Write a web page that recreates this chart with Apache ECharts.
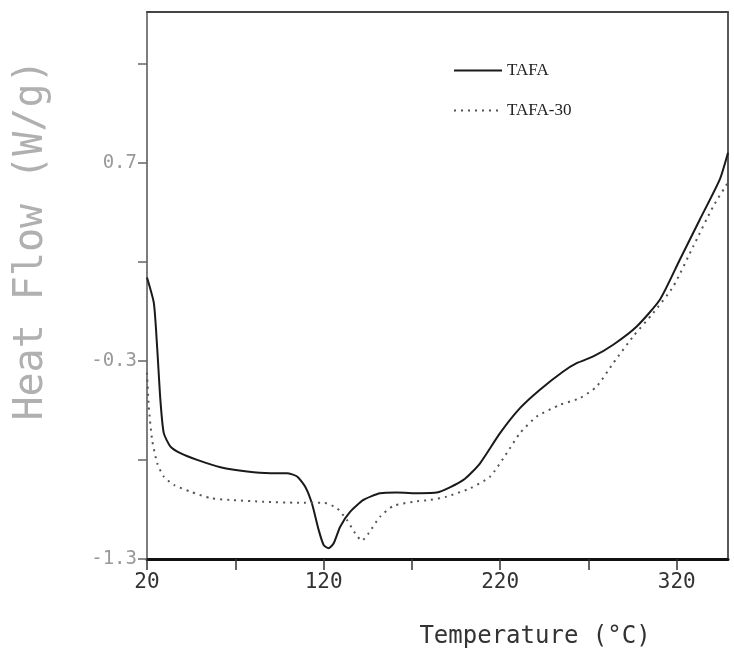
<!DOCTYPE html>
<html><head><meta charset="utf-8">
<script src="https://cdn.jsdelivr.net/npm/echarts@6/dist/echarts.min.js"></script>
<style>html,body{margin:0;padding:0;background:#fff}#c{width:734px;height:654px}</style>
</head><body><div id="c"></div>
<script>
const seriesNames = ['TAFA', 'TAFA-30'];
const tafaTemp = [20, 23.9, 25.8, 27.6, 29.5, 33.3, 38.9, 48.4, 61.6, 76.7, 89.9, 99.3, 105, 109.6, 113.4, 117.2, 120, 122.8, 125.7, 129.4, 135.1, 142.6, 152, 161.5, 174.7, 184.1, 199.2, 208.6, 219.9, 231.2, 242.5, 255.7, 263.3, 272.7, 284, 297.3, 310.4, 321.7, 333, 344.3, 349];
const tafaFlow = [0.12, -0.01, -0.24, -0.50, -0.665, -0.733, -0.766, -0.80, -0.837, -0.859, -0.867, -0.867, -0.884, -0.935, -1.02, -1.153, -1.229, -1.246, -1.221, -1.137, -1.061, -1.002, -0.968, -0.965, -0.968, -0.965, -0.901, -0.817, -0.665, -0.539, -0.446, -0.354, -0.312, -0.278, -0.219, -0.127, 0.008, 0.21, 0.412, 0.614, 0.75];
const tafa30Temp = [20, 21, 22.9, 25.8, 29.5, 35.2, 44.6, 55.9, 67.2, 86.1, 105, 120, 127.6, 133.2, 137.9, 141.7, 145.5, 152, 159.6, 170.9, 180.3, 189.8, 203, 214.3, 223.7, 231.2, 240.7, 253.9, 265.2, 274.6, 284, 295.3, 306.6, 318, 329.3, 340.6, 349];
const tafa30Flow = [-0.36, -0.531, -0.699, -0.817, -0.884, -0.926, -0.96, -0.993, -1.002, -1.011, -1.016, -1.016, -1.044, -1.103, -1.17, -1.208, -1.17, -1.086, -1.032, -1.011, -1.002, -0.985, -0.943, -0.884, -0.766, -0.665, -0.581, -0.522, -0.488, -0.43, -0.312, -0.177, -0.059, 0.075, 0.277, 0.479, 0.60];
const xTicks = [20, 70, 120, 170, 220, 270, 320];
const xTickLabels = [20, 120, 220, 320];
const yTicks = [-1.3, -0.8, -0.3, 0.2, 0.7, 1.2];
const yTickLabels = [-1.3, -0.3, 0.7];
const xName = 'Temperature (°C)';
const yName = 'Heat Flow (W/g)';

const zip = (a, b) => a.map((v, i) => [v, b[i]]);
const chart = echarts.init(document.getElementById('c'), null, {renderer: 'canvas'});
const mono = 'DejaVu Sans Mono';
chart.setOption({
  animation: false,
  backgroundColor: '#fff',
  grid: {left: 147, right: 6, top: 12, bottom: 95, containLabel: false},
  legend: {
    orient: 'vertical', left: 448, top: 57, itemWidth: 48, itemHeight: 14, itemGap: 23,
    itemStyle: {opacity: 0},
    textStyle: {fontFamily: 'Liberation Serif', fontSize: 17, color: '#222'},
    data: seriesNames
  },
  xAxis: [{
    type: 'value', min: 20, max: 349,
    axisLine: {onZero: false, lineStyle: {color: '#111', width: 3}},
    axisTick: {customValues: xTicks, length: 11, lineStyle: {color: '#333', width: 1.5}},
    axisLabel: {customValues: xTickLabels, fontFamily: mono, fontSize: 21, color: '#333', margin: 13},
    splitLine: {show: false}
  }, {
    type: 'value', position: 'top', min: 20, max: 349,
    axisLine: {show: true, onZero: false, lineStyle: {color: '#444', width: 2}},
    axisTick: {show: false}, axisLabel: {show: false}, splitLine: {show: false}
  }],
  yAxis: [{
    type: 'value', min: -1.3, max: 1.46,
    axisLine: {show: true, onZero: false, lineStyle: {color: '#777', width: 2, type: [1, 1]}},
    axisTick: {customValues: yTicks, length: 9, lineStyle: {color: '#666', width: 1.5}},
    axisLabel: {customValues: yTickLabels, fontFamily: mono, fontSize: 19, color: '#999', margin: 10,
      formatter: v => v.toFixed(1)},
    splitLine: {show: false}
  }, {
    type: 'value', position: 'right', min: -1.3, max: 1.46,
    axisLine: {show: true, onZero: false, lineStyle: {color: '#222', width: 1.5}},
    axisTick: {show: false}, axisLabel: {show: false}, splitLine: {show: false}
  }],
  graphic: [
    {type: 'text', x: 32, y: 240, rotation: Math.PI / 2,
      style: {text: yName, font: '40px "DejaVu Sans Mono"', fill: '#b0b0b0', align: 'center', verticalAlign: 'middle'}},
    {type: 'text', x: 535, y: 637,
      style: {text: xName, font: '24px "DejaVu Sans Mono"', fill: '#333', align: 'center', verticalAlign: 'middle'}}
  ],
  series: [
    {name: seriesNames[0], type: 'line', data: zip(tafaTemp, tafaFlow), symbol: 'none', smooth: 0.2,
      lineStyle: {color: '#1a1a1a', width: 2}, itemStyle: {color: '#1a1a1a'}},
    {name: seriesNames[1], type: 'line', data: zip(tafa30Temp, tafa30Flow), symbol: 'none', smooth: 0.2,
      lineStyle: {color: '#555', width: 2, type: [2, 5]}, itemStyle: {color: '#555'}}
  ]
});
</script>
</body></html>
